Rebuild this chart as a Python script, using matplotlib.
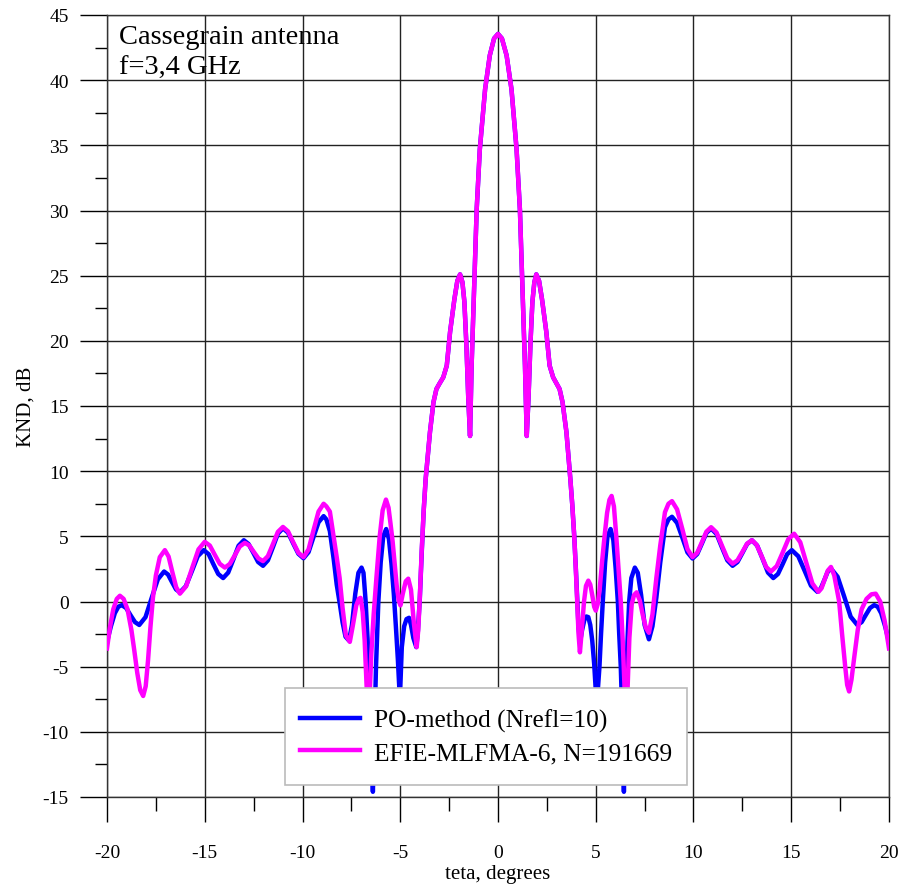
import matplotlib
matplotlib.use("Agg")
import matplotlib.pyplot as plt
from matplotlib.ticker import MultipleLocator
from matplotlib.patches import Rectangle

plt.rcParams['font.family'] = ['Liberation Serif', 'DejaVu Serif']
plt.rcParams['axes.unicode_minus'] = False

# ---- PO-method (Nrefl=10) ----
po_x = [-20.0, -19.8, -19.6, -19.42, -19.24, -19.02, -18.8, -18.57, -18.35,
        -18.03, -17.72, -17.4, -17.08, -16.88, -16.68, -16.47, -16.27,
        -15.97, -15.66, -15.36, -15.05, -14.8, -14.56, -14.31, -14.06,
        -13.8, -13.53, -13.27, -13.0, -12.76, -12.51, -12.27, -12.02,
        -11.77, -11.51, -11.26, -11.0, -10.74, -10.48, -10.21, -9.95,
        -9.69, -9.44, -9.18, -8.92, -8.78, -8.6, -8.4, -8.25, -8.1, -7.95,
        -7.8, -7.62, -7.47, -7.3, -7.14, -6.98, -6.88, -6.77, -6.65, -6.55,
        -6.46, -6.4, -6.33, -6.24, -6.12, -6.0, -5.87, -5.72, -5.58, -5.45,
        -5.33, -5.22, -5.12, -5.02, -4.92, -4.8, -4.68, -4.55, -4.45, -4.33,
        -4.18, -4.1, -4.0, -3.9, -3.8, -3.7,
        -3.48, -3.3, -3.15, -3.0, -2.8, -2.62, -2.45, -2.23, -2.08, -1.94,
        -1.82, -1.72, -1.62, -1.52, -1.43, -1.35, -1.24, -1.09, -0.93, -0.66,
        -0.42, -0.2, 0.0, 0.2, 0.44, 0.69, 0.95, 1.12, 1.27, 1.38, 1.47, 1.56,
        1.66, 1.76, 1.86, 1.96, 2.1, 2.25, 2.47, 2.64, 2.82, 3.0, 3.15, 3.3,
        3.5, 3.7,
        3.8, 3.9, 3.98, 4.05, 4.12, 4.2, 4.3, 4.42, 4.52, 4.62, 4.72, 4.82,
        4.92, 5.0, 5.06, 5.12, 5.19, 5.27, 5.36, 5.48, 5.6, 5.76, 5.9, 6.02,
        6.13, 6.2, 6.28, 6.36, 6.44, 6.51, 6.58, 6.64, 6.71, 6.82, 7.0, 7.15,
        7.32, 7.5, 7.72, 7.9, 8.1, 8.3, 8.54, 8.72, 8.9,
        9.16, 9.43, 9.69, 9.95, 10.19, 10.43, 10.66, 10.9, 11.18, 11.45,
        11.73, 12.0, 12.25, 12.5, 12.74, 12.99, 13.26, 13.54, 13.81, 14.08,
        14.32, 14.56, 14.79, 15.03, 15.36, 15.69, 16.01, 16.34, 16.51, 16.69,
        16.86, 17.03, 17.37, 17.71, 18.04, 18.38, 18.6, 18.81, 19.03, 19.24,
        19.42, 19.6, 19.8, 20.0]
po_y = [-3.1, -1.9, -0.9, -0.4, -0.28, -0.5, -1.04, -1.58, -1.8,
        -1.2, 0.25, 1.7, 2.3, 2.07, 1.5, 0.93, 0.7,
        1.17, 2.32, 3.47, 3.94, 3.63, 2.87, 2.11, 1.8,
        2.22, 3.25, 4.28, 4.7, 4.41, 3.72, 3.03, 2.74,
        3.16, 4.18, 5.2, 5.62, 5.28, 4.47, 3.66, 3.32,
        3.79, 4.94, 6.08, 6.55, 6.3, 5.4, 3.2, 1.3, -0.1, -1.6,
        -2.7, -3.0, -1.8, 0.6, 2.2, 2.6, 2.2, 0.0, -3.5, -7.5,
        -11.5, -14.6, -10.5, -5.0, 0.0, 3.0, 5.0, 5.56, 4.8, 2.9,
        0.6, -2.0, -4.5, -7.5, -3.5, -1.9, -1.35, -1.25, -1.8, -2.8,
        -3.5, -2.3, 0.2, 3.8, 7.0, 9.4,
        13.0, 15.3, 16.3, 16.7, 17.2, 18.1, 20.7, 23.2, 24.6, 25.1,
        24.5, 23.0, 19.8, 15.6, 12.7, 18.1, 23.2, 30.1, 34.7, 39.3,
        41.9, 43.2, 43.55, 43.2, 41.9, 39.3, 34.7, 30.1, 23.2, 18.1, 12.7, 15.6,
        19.8, 23.0, 24.5, 25.1, 24.6, 23.2, 20.7, 18.1, 17.2, 16.7, 16.3, 15.3,
        13.0, 9.4,
        7.4, 5.0, 2.6, 0.3, -2.0, -3.1, -2.2, -1.4, -1.15, -1.2, -1.8, -3.0,
        -4.8, -6.8, -8.0, -6.5, -5.0, -2.5, 0.0, 3.0, 5.0, 5.56, 4.7, 2.5,
        0.0, -2.5, -5.0, -9.0, -14.6, -9.0, -5.0, -2.4, 0.0, 1.8, 2.6, 2.2,
        0.5, -1.8, -2.9, -1.9, 0.3, 3.0, 5.7, 6.3, 6.5,
        6.03, 4.9, 3.77, 3.3, 3.64, 4.45, 5.26, 5.6, 5.18, 4.17,
        3.16, 2.74, 3.03, 3.72, 4.41, 4.7, 4.28, 3.25, 2.22, 1.8,
        2.11, 2.87, 3.63, 3.94, 3.47, 2.34, 1.21, 0.74, 1.0, 1.64,
        2.27, 2.53, 1.9, 0.37, -1.17, -1.8, -1.58, -1.04, -0.5, -0.28,
        -0.4, -0.9, -1.9, -3.1]

# ---- EFIE-MLFMA-6, N=191669 ----
efie_x = [-20.0, -19.85, -19.68, -19.5, -19.34, -19.15, -18.95, -18.75, -18.6,
          -18.45, -18.3, -18.15, -18.02, -17.9, -17.78, -17.65, -17.5, -17.3,
          -17.04, -16.85, -16.66, -16.46, -16.27, -15.95, -15.64, -15.32, -15.0,
          -14.74, -14.49, -14.23, -13.97, -13.72, -13.46, -13.21, -12.95,
          -12.72, -12.49, -12.25, -12.02, -11.77, -11.51, -11.26, -11.0,
          -10.74, -10.48, -10.21, -9.95, -9.69, -9.44, -9.18, -8.92, -8.78,
          -8.6, -8.4, -8.25, -8.1, -7.95, -7.78, -7.58, -7.42, -7.25, -7.12,
          -7.03, -6.92, -6.82, -6.72, -6.63, -6.56, -6.48, -6.36, -6.22, -6.05,
          -5.9, -5.73, -5.6, -5.5, -5.39, -5.28, -5.18, -5.08, -4.99, -4.87,
          -4.72, -4.59, -4.45, -4.3, -4.16, -4.08, -4.0, -3.9, -3.8, -3.7,
          -3.48, -3.3, -3.15, -3.0, -2.8, -2.62, -2.45, -2.23, -2.08, -1.94,
          -1.82, -1.72, -1.62, -1.52, -1.43, -1.35, -1.24, -1.09, -0.93, -0.66,
          -0.42, -0.2, 0.0, 0.2, 0.44, 0.69, 0.95, 1.12, 1.27, 1.38, 1.47, 1.56,
          1.66, 1.76, 1.86, 1.96, 2.1, 2.25, 2.47, 2.64, 2.82, 3.0, 3.15, 3.3,
          3.5, 3.7,
          3.8, 3.9, 3.98, 4.05, 4.12, 4.19, 4.27, 4.4, 4.5, 4.62, 4.72, 4.82,
          4.92, 5.0, 5.1, 5.2, 5.32, 5.45, 5.58, 5.7, 5.81, 5.93, 6.05, 6.17,
          6.28, 6.38, 6.47, 6.56, 6.63, 6.72, 6.84, 6.96, 7.09, 7.25, 7.4,
          7.56, 7.72, 7.9, 8.1, 8.3, 8.54, 8.72, 8.9,
          9.16, 9.43, 9.69, 9.95, 10.19, 10.43, 10.66, 10.9, 11.18, 11.45,
          11.73, 12.0, 12.25, 12.5, 12.74, 12.99, 13.23, 13.48, 13.72, 13.96,
          14.26, 14.56, 14.85, 15.15, 15.46, 15.77, 16.08, 16.39, 16.55, 16.71,
          16.87, 17.03, 17.2, 17.35, 17.45, 17.6, 17.76, 17.86, 17.96, 18.08,
          18.22, 18.4, 18.6, 18.85, 19.1, 19.32, 19.55, 19.78, 20.0]
efie_y = [-3.6, -2.0, -0.6, 0.2, 0.44, 0.2, -0.6, -2.2, -3.8,
          -5.5, -6.8, -7.25, -6.5, -4.5, -2.0, 0.3, 2.0, 3.4,
          3.94, 3.45, 2.27, 1.09, 0.6, 1.18, 2.59, 4.0, 4.58,
          4.29, 3.59, 2.89, 2.6, 2.88, 3.55, 4.22, 4.5,
          4.3, 3.8, 3.3, 3.1, 3.48, 4.41, 5.34, 5.72,
          5.38, 4.56, 3.74, 3.4, 4.0, 5.45, 6.9, 7.5, 7.3,
          6.9, 4.9, 3.4, 1.8, -0.5, -2.6, -3.1, -1.8, -0.3, 0.2,
          0.28, -0.8, -3.0, -6.5, -10.5, -7.0, -4.0, -1.0, 1.8, 5.0,
          7.0, 7.82, 7.2, 6.0, 4.6, 2.8, 1.2, 0.1, -0.3, 0.6,
          1.55, 1.75, 0.9, -1.7, -3.5, -2.2, 0.3, 4.0, 7.0, 9.4,
          13.0, 15.3, 16.3, 16.7, 17.2, 18.1, 20.7, 23.2, 24.6, 25.1,
          24.5, 23.0, 19.8, 15.6, 12.7, 18.1, 23.2, 30.1, 34.7, 39.3,
          41.9, 43.2, 43.55, 43.2, 41.9, 39.3, 34.7, 30.1, 23.2, 18.1, 12.7, 15.6,
          19.8, 23.0, 24.5, 25.1, 24.6, 23.2, 20.7, 18.1, 17.2, 16.7, 16.3, 15.3,
          13.0, 9.4,
          7.4, 5.0, 2.5, 0.0, -2.5, -3.9, -2.5, 0.0, 1.2, 1.6, 1.3, 0.5,
          -0.4, -0.7, -0.2, 0.9, 3.0, 5.0, 6.8, 7.8, 8.1, 7.3, 5.0, 2.4,
          0.0, -3.0, -6.5, -10.5, -6.6, -2.8, -0.2, 0.5, 0.7, 0.1, -1.0,
          -2.0, -2.4, -1.0, 1.8, 4.3, 6.85, 7.5, 7.7,
          7.07, 5.55, 4.03, 3.4, 3.74, 4.55, 5.36, 5.7, 5.29, 4.3,
          3.31, 2.9, 3.16, 3.8, 4.44, 4.7, 4.35, 3.5, 2.65, 2.3,
          2.72, 3.75, 4.78, 5.2, 4.55, 2.97, 1.39, 0.74, 1.02, 1.7,
          2.37, 2.65, 2.0, 0.8, 0.0, -2.5, -5.0, -6.4, -6.9, -6.0,
          -4.3, -2.2, -0.6, 0.2, 0.55, 0.6, 0.0, -1.5, -3.6]

x_ticks = [-20, -15, -10, -5, 0, 5, 10, 15, 20]
y_ticks = [-15, -10, -5, 0, 5, 10, 15, 20, 25, 30, 35, 40, 45]
po_label = "PO-method (Nrefl=10)"
efie_label = "EFIE-MLFMA-6, N=191669"

fig = plt.figure(figsize=(9.04, 8.95), dpi=100)
ax = fig.add_axes([107/904, 1-798/895, 782/904, 782/895])

ax.plot(po_x, po_y, color='#0000ff', lw=3.2, label=po_label, zorder=3,
        solid_joinstyle='round')
ax.plot(efie_x, efie_y, color='#ff00ff', lw=3.2, label=efie_label, zorder=4,
        solid_joinstyle='round')

ax.set_xlim(-20, 20)
ax.set_ylim(-15, 45)
ax.set_xticks(x_ticks)
ax.set_yticks(y_ticks)
ax.xaxis.set_minor_locator(MultipleLocator(2.5))
ax.yaxis.set_minor_locator(MultipleLocator(2.5))
ax.grid(True, which='major', color='#222222', lw=1.0)
ax.set_axisbelow(True)
for s in ax.spines.values():
    s.set_color('#333333')
    s.set_linewidth(1.0)

ax.tick_params(axis='x', which='major', direction='out', length=18, width=1.0,
               pad=16, labelsize=14)
ax.tick_params(axis='x', which='minor', direction='out', length=10, width=1.0)
ax.tick_params(axis='y', which='major', direction='out', length=19.5, width=1.0,
               pad=8, labelsize=14)
ax.tick_params(axis='y', which='minor', direction='out', length=8.5, width=1.0)

ax.set_xlabel("teta, degrees", fontsize=15, labelpad=2)
ax.set_ylabel("KND, dB", fontsize=15, labelpad=5)

ax.text(0.0155, 0.988, "Cassegrain antenna\nf=3,4 GHz", transform=ax.transAxes,
        ha='left', va='top', fontsize=20.5, linespacing=1.3, zorder=6)

# legend box (drawn as a frame patch) and frameless legend inside it
bx0, bx1 = (285 - 107) / 782, (687 - 107) / 782
by0, by1 = (798 - 786) / 782, (798 - 689) / 782
box = Rectangle((bx0, by0), bx1 - bx0, by1 - by0, transform=ax.transAxes,
                facecolor='white', edgecolor='#bbbbbb', lw=1.2, zorder=9)
ax.add_patch(box)
leg = ax.legend(loc='upper left', bbox_to_anchor=((300 - 107) / 782, (798 - 710) / 782),
                borderaxespad=0, borderpad=0, frameon=False, fontsize=18.3,
                handlelength=2.35, handletextpad=0.55, labelspacing=0.35)
leg.set_zorder(10)

fig.savefig("out.png", dpi=100)
